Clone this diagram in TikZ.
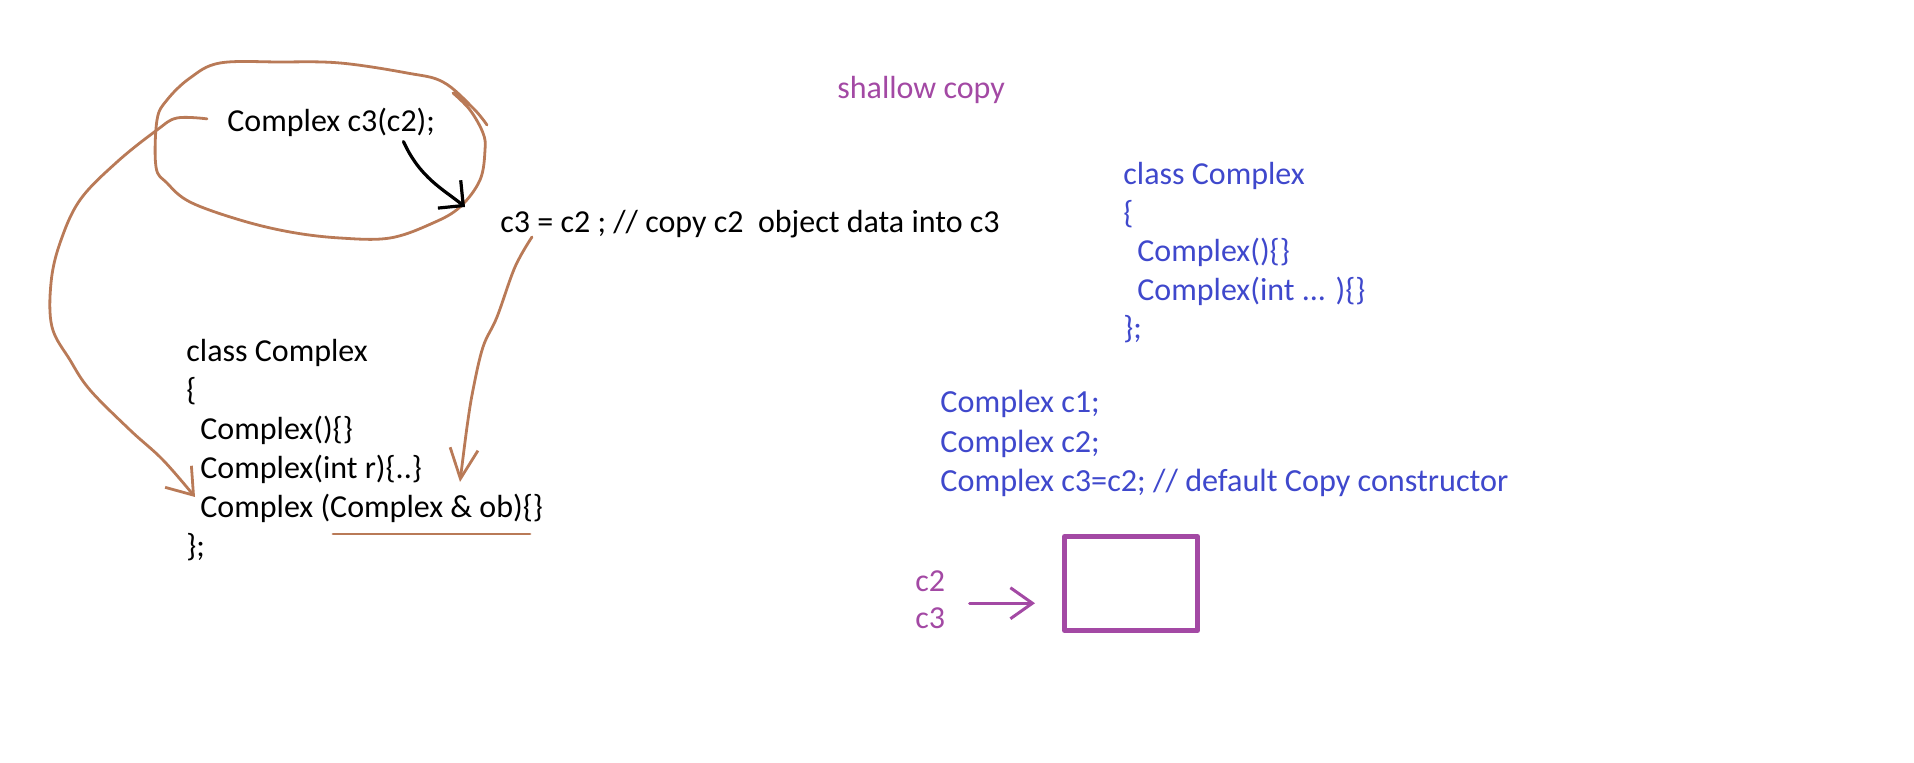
\documentclass[tikz,border=0pt]{standalone}
\usepackage{fontspec}
\setmainfont{Carlito}
\usetikzlibrary{arrows.meta}
\definecolor{paintbrown}{RGB}{185,122,87}
\definecolor{paintpurple}{RGB}{163,73,164}
\definecolor{paintblue}{RGB}{63,72,204}
\newcommand{\ind}{\hspace*{7pt}}
\begin{document}
\begin{tikzpicture}[x=0.5pt, y=-0.5pt, line cap=round, line join=round,
  code/.style={anchor=base west, inner sep=0pt, align=left,
    font=\fontsize{16}{19.5}\selectfont},
  pen/.style={draw=paintbrown, line width=1.4pt},
  ink/.style={draw=black, line width=1.6pt},
  marker/.style={draw=paintpurple, line width=1.5pt}]
\useasboundingbox (0,0) rectangle (1914,763);
% Texte (base = Grundlinie der letzten Zeile)
\node[code, paintpurple] (title) at (837,99) {shallow copy};
\node[code] (loopcall) at (227,132) {Complex c3(c2);};
\node[code] (assign) at (500,233) {c3 = c2 ; // copy c2\ \ object data into c3};
\node[code] (leftclass) at (186,557) {class Complex\\\{\\\ind Complex()\{\}\\\ind Complex(int r)\{..\}\\\ind Complex (Complex \& ob)\{\}\\\};};
\node[code, paintblue, font=\fontsize{16}{19.25}\selectfont] (rightclass) at (1123,339) {class Complex\\\{\\\ind Complex()\{\}\\\ind Complex(int ... )\{\}\\\};};
\node[code, paintblue, font=\fontsize{16.1}{19.75}\selectfont] (decls) at (940,492) {Complex c1;\\Complex c2;\\Complex c3=c2; // default Copy constructor};
\node[code, paintpurple, font=\fontsize{16}{18.5}\selectfont] (refs) at (915,628) {c2\\c3};
% Objekt
\node[draw=paintpurple, line width=2.5pt, minimum width=66.5pt, minimum height=47pt, inner sep=0pt] (obj) at (1131,583.5) {};
\draw[marker, -{Straight Barb[length=11pt, width=15.5pt]}] ([xshift=12pt, yshift=-2pt]refs.east) -- ([xshift=-13.5pt, yshift=-2pt]refs.east -| obj.west);
% Schleife um Complex c3(c2)
\draw[pen] plot[smooth, tension=0.6] coordinates {(487,125) (473,108) (443,82) (407,73) (340,63) (280,62) (220,63) (190,78) (167,100) (157,120) (156,167) (167,183) (190,202) (240,220) (290,232) (340,238) (390,238) (433,223) (460,207) (480,180) (485,150) (483,133) (470,110) (453,93)};
\coordinate (looptip) at (465,207);
\draw[ink, -{Straight Barb[length=9pt, width=18pt]}] ([xshift=-16pt, yshift=-2pt]loopcall.south east) .. controls (420,178) and (443,189) .. (looptip);
% Pfeile zum Copy-Konstruktor
\coordinate (copyctor) at (195,497);
\coordinate (ctorref) at (460,482);
\draw[pen, -{Straight Barb[length=12pt, width=17pt]}] plot[smooth, tension=0.6] coordinates {([xshift=-10pt, yshift=2pt]loopcall.west) (177,118) (157,130) (117,162) (80,200) (60,243) (51,283) (52,327) (70,360) (90,390) (130,430) (163,460) (copyctor)};
\draw[pen, -{Straight Barb[length=15pt, width=14pt]}] plot[smooth, tension=0.6] coordinates {([xshift=16pt, yshift=-2pt]assign.base west) (515,267) (497,317) (483,347) (473,390) (467,427) (ctorref)};
% Unterstrich
\draw[pen] (333,534) -- (530,534);
\end{tikzpicture}
\end{document}
